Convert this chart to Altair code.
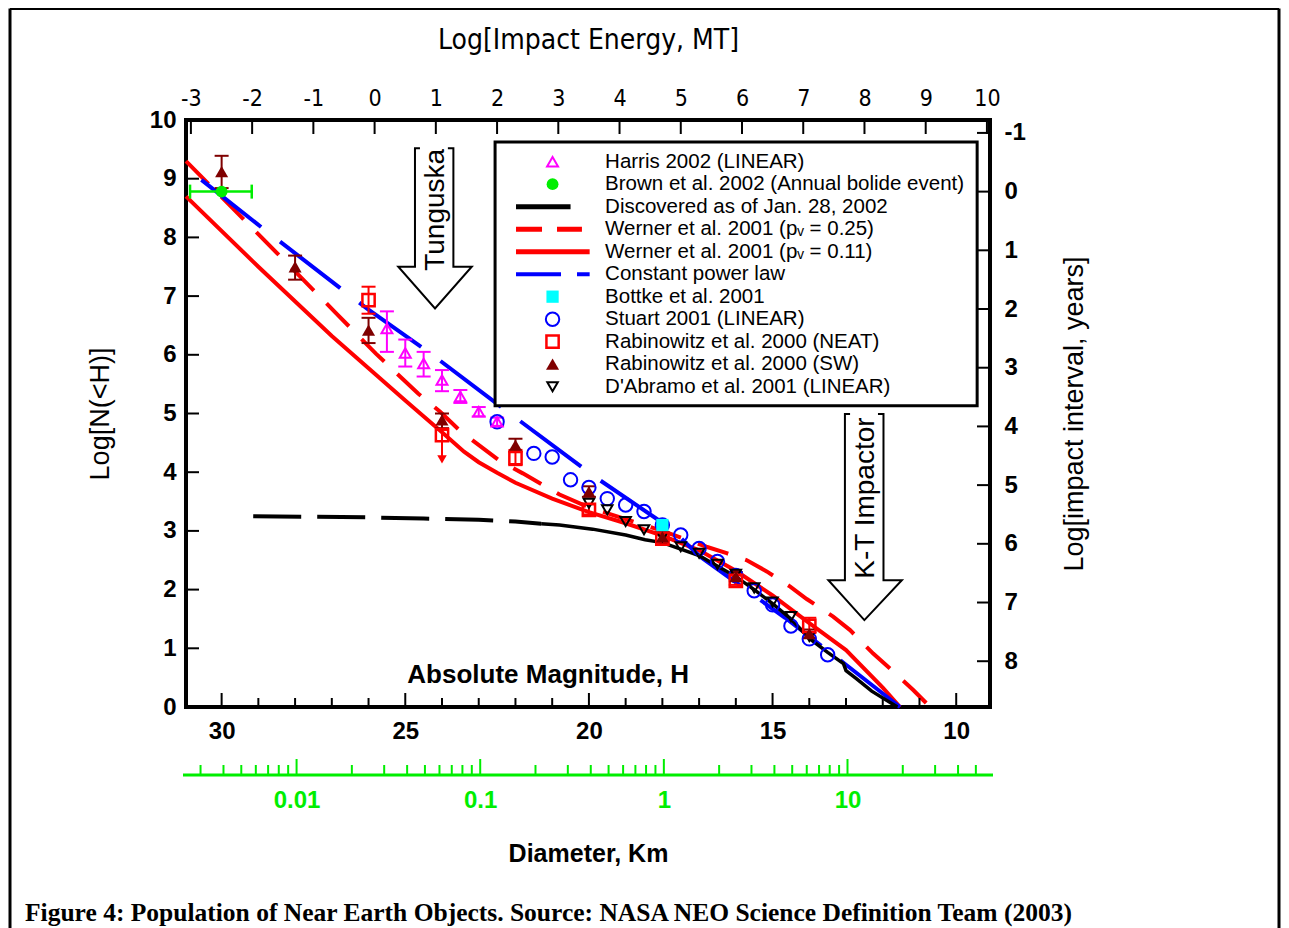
import altair as alt
import pandas as pd

# ---------------- values ----------------
# Harris 2002 (LINEAR): magenta open triangles with error bars
harris_H = [25.5, 25.0, 24.5, 24.0, 23.5, 23.0, 22.5]
harris_L = [6.45, 6.03, 5.85, 5.57, 5.29, 5.03, 4.86]
harris_lo = [6.05, 5.80, 5.63, 5.38, 5.18, 4.95, 4.79]
harris_hi = [6.74, 6.26, 6.05, 5.74, 5.40, 5.11, 4.93]

# Brown et al. 2002 (annual bolide event)
brown_H = [30.0]
brown_L = [8.78]
brown_Hlo = [30.86]
brown_Hhi = [29.18]

# Bottke et al. 2001
bottke_H = [18.0]
bottke_L = [3.10]

# Stuart 2001 (LINEAR)
stuart_H = [22.5, 21.5, 21.0, 20.5, 20.0, 19.5, 19.0, 18.5, 18.0, 17.5, 17.0,
            16.5, 16.0, 15.5, 15.0, 14.5, 14.0, 13.5]
stuart_L = [4.86, 4.32, 4.26, 3.87, 3.74, 3.55, 3.44, 3.33, 3.10, 2.93, 2.70,
            2.48, 2.24, 1.98, 1.74, 1.38, 1.16, 0.89]

# Rabinowitz et al. 2000 (NEAT)
neat_H = [26.0, 24.0, 22.0, 20.0, 18.0, 16.0, 14.0]
neat_L = [6.93, 4.63, 4.24, 3.36, 2.87, 2.15, 1.38]
neat_lo = [6.70, 4.22, 4.12, 3.28, 2.80, 2.08, 1.26]
neat_hi = [7.16, 4.72, 4.38, 3.45, 2.95, 2.24, 1.52]
neat_limit_H = [24.0]          # upper-limit arrow
neat_limit_L = [4.22]

# Rabinowitz et al. 2000 (SW)
sw_H = [30.0, 28.0, 26.0, 24.0, 22.0, 20.0, 18.0, 16.0, 14.0]
sw_L = [9.12, 7.50, 6.42, 4.89, 4.46, 3.67, 2.90, 2.22, 1.25]
sw_lo = [8.84, 7.28, 6.20, 4.75, 4.35, 3.58, 2.83, 2.15, 1.18]
sw_hi = [9.39, 7.69, 6.63, 5.00, 4.57, 3.76, 2.97, 2.30, 1.32]

# D'Abramo et al. 2001 (LINEAR)
dab_H = [20.0, 19.5, 19.0, 18.5, 18.0, 17.5, 17.0, 16.5, 16.0, 15.5, 15.0, 14.5, 14.0]
dab_L = [3.47, 3.36, 3.16, 3.02, 2.90, 2.73, 2.62, 2.43, 2.26, 2.03, 1.79, 1.54, 1.20]

# Werner et al. 2001 (pV = 0.25) : dashed red
w25_H = [30.97, 29.5, 28.0, 26.9, 25.8, 24.65, 24.05, 23.5, 22.4, 21.8, 20.8, 20.0,
         19.0, 18.0, 16.8, 16.25, 15.7, 15.16, 14.52, 14.07, 13.35, 12.89, 12.26,
         11.76, 11.17, 10.71]
w25_L = [9.30, 8.37, 7.42, 6.72, 6.02, 5.34, 5.03, 4.70, 4.18, 3.98, 3.62, 3.40,
         3.20, 3.00, 2.73, 2.62, 2.50, 2.31, 2.05, 1.84, 1.54, 1.31, 0.91,
         0.63, 0.29, 0.0]

# Werner et al. 2001 (pV = 0.11) : solid red
w11_H = [30.97, 29.0, 27.0, 26.0, 25.0, 24.0, 23.4, 23.0, 22.5, 22.0, 21.0, 20.0,
         19.0, 18.0, 17.0, 16.0, 15.0, 14.0, 13.0, 12.0, 11.53]
w11_L = [8.70, 7.50, 6.32, 5.77, 5.22, 4.68, 4.35, 4.17, 3.99, 3.82, 3.55, 3.32,
         3.13, 2.92, 2.67, 2.32, 1.90, 1.43, 0.97, 0.33, 0.0]

# Constant power law : dashed blue
pow_H = [30.55, 28.87, 26.05, 24.37, 22.15, 19.88, 17.79, 16.97, 14.66, 13.0, 11.53]
pow_L = [8.98, 8.15, 6.79, 6.05, 5.00, 3.94, 3.05, 2.56, 1.52, 0.72, 0.0]

# Discovered as of Jan. 28, 2002 : black
disc_dash_H = [29.14, 27.5, 26.0, 24.5, 23.0, 22.0, 21.3]
disc_dash_L = [3.25, 3.24, 3.23, 3.21, 3.19, 3.16, 3.12]
disc_H = [21.3, 20.8, 19.9, 19.0, 18.47, 18.0, 17.0, 16.0, 15.5, 15.0, 14.5, 14.0,
          13.5, 13.07, 13.0, 12.71, 12.3, 11.6]
disc_L = [3.12, 3.10, 3.03, 2.93, 2.85, 2.80, 2.58, 2.22, 2.00, 1.76, 1.50, 1.17,
          0.93, 0.74, 0.62, 0.48, 0.27, 0.0]

# annotation arrows (open-topped outlines, in H / log N units)
tung_H = [24.60, 24.736, 24.736, 25.19, 24.19, 23.19, 23.69, 23.69, 23.84]
tung_L = [9.52, 9.52, 7.50, 7.50, 6.79, 7.50, 7.50, 9.52, 9.52]
kt_H = [12.89, 13.03, 13.03, 13.48, 12.50, 11.48, 11.98, 11.98, 12.13]
kt_L = [4.99, 4.99, 2.16, 2.16, 1.48, 2.16, 2.16, 4.99, 4.99]

# axis tick values
h_major = [10, 15, 20, 25, 30]
h_minor = [11, 12, 13, 14, 16, 17, 18, 19, 21, 22, 23, 24, 26, 27, 28, 29]
logn_ticks = [0, 1, 2, 3, 4, 5, 6, 7, 8, 9, 10]
energy_ticks = [-3, -2, -1, 0, 1, 2, 3, 4, 5, 6, 7, 8, 9, 10]
interval_ticks = [-1, 0, 1, 2, 3, 4, 5, 6, 7, 8]
diam_major = [0.01, 0.1, 1, 10]
diam_minor = [0.003, 0.004, 0.005, 0.006, 0.007, 0.008, 0.009,
              0.02, 0.03, 0.04, 0.05, 0.06, 0.07, 0.08, 0.09,
              0.2, 0.3, 0.4, 0.5, 0.6, 0.7, 0.8, 0.9,
              2, 3, 4, 5, 6, 7, 8, 9, 20, 30, 40, 50]

legend_labels = [
    "Harris 2002 (LINEAR)",
    "Brown et al. 2002 (Annual bolide event)",
    "Discovered as of Jan. 28, 2002",
    "Werner et al. 2001 (p\u1d65 = 0.25)",
    "Werner et al. 2001 (p\u1d65 = 0.11)",
    "Constant power law",
    "Bottke et al. 2001",
    "Stuart 2001 (LINEAR)",
    "Rabinowitz et al. 2000 (NEAT)",
    "Rabinowitz et al. 2000 (SW)",
    "D'Abramo et al. 2001 (LINEAR)",
]
caption = ("Figure 4: Population of Near Earth Objects. Source: NASA NEO Science "
           "Definition Team (2003)")

# ---------------- layout constants ----------------
FONT = "Liberation Sans, Arial, Helvetica, sans-serif"
NARROW = "Liberation Sans Narrow, Arial Narrow, DejaVu Sans Condensed, Liberation Sans, sans-serif"
W, HT = 804, 587
PAD_L, PAD_T, PAD_R, PAD_B = 178, 112, 291, 221
H_DOM = [9.08, 30.97]
E_DOM = [-3.08, 10.05]
R_DOM = [-1.22, 8.78]
D_DOM = [0.0025, 59.7]

xs = alt.Scale(domain=H_DOM, reverse=True, nice=False, zero=False)
ys = alt.Scale(domain=[0, 10], nice=False, zero=False)
x_axis = alt.Axis(values=h_major, title=None, ticks=False, domain=False, grid=False,
                  labelFont=FONT, labelFontSize=24, labelFontWeight="bold",
                  labelColor="black", labelPadding=12, labelFlush=False,
                  labelOverlap=False)
y_axis = alt.Axis(values=logn_ticks, title="Log[N(<H)]", ticks=False, domain=False,
                  grid=False, labelFont=FONT, labelFontSize=24, labelFontWeight="bold",
                  labelColor="black", labelPadding=10, labelOverlap=False,
                  titleFont=FONT, titleFontSize=27, titleFontWeight="normal",
                  titleColor="black", titlePadding=35)


def X(f):
    return alt.X(f + ":Q", scale=xs, axis=x_axis)


def Y(f):
    return alt.Y(f + ":Q", scale=ys, axis=y_axis)


def frame(**cols):
    df = pd.DataFrame(cols)
    df["i"] = range(len(df))
    return df


one = pd.DataFrame({"k": [0]})

STY = {
    "harris": dict(shape="triangle-up", color="#ff00ff", filled=False, size=120,
                   strokeWidth=2, opacity=1),
    "brown": dict(shape="circle", color="#00ee00", filled=True, size=140, opacity=1),
    "bottke": dict(shape="square", color="#00ffff", filled=True, size=150, opacity=1),
    "stuart": dict(shape="circle", color="#0000ff", filled=False, size=180,
                   strokeWidth=2, opacity=1),
    "neat": dict(shape="square", color="#ff0000", filled=False, size=150,
                 strokeWidth=2.5, opacity=1),
    "sw": dict(shape="triangle-up", color="#7f0000", filled=True, size=170, opacity=1),
    "dab": dict(shape="triangle-down", color="#000000", filled=False, size=110,
                strokeWidth=2, opacity=1),
}

layers = []


def line(H, L, **kw):
    df = frame(H=H, L=L)
    return alt.Chart(df).mark_line(**kw).encode(x=X("H"), y=Y("L"), order="i:Q")


layers.append(line(w25_H, w25_L, color="#ff0000", strokeWidth=4, strokeDash=[32, 18]))
layers.append(line(w11_H, w11_L, color="#ff0000", strokeWidth=4))
layers.append(line(pow_H, pow_L, color="#0000ff", strokeWidth=4, strokeDash=[76, 24]))
layers.append(line(disc_dash_H, disc_dash_L, color="black", strokeWidth=4,
                   strokeDash=[48, 16]))
layers.append(line(disc_H, disc_L, color="black", strokeWidth=3.5))


def errbars(H, L, lo, hi, color, skip_lo=()):
    df = frame(H=H, L=L, lo=lo, hi=hi)
    rule = alt.Chart(df).mark_rule(color=color, strokeWidth=2).encode(
        x=X("H"), y=Y("lo"), y2=alt.Y2("hi"))
    cap_hi = alt.Chart(df).mark_tick(orient="horizontal", color=color, size=14,
                                     thickness=2, opacity=1).encode(x=X("H"), y=Y("hi"))
    df_lo = df[~df["H"].isin(skip_lo)]
    cap_lo = alt.Chart(df_lo).mark_tick(orient="horizontal", color=color, size=14,
                                        thickness=2, opacity=1).encode(x=X("H"), y=Y("lo"))
    return [rule, cap_hi, cap_lo]


layers += errbars(harris_H, harris_L, harris_lo, harris_hi, "#ff00ff")
layers += errbars(sw_H, sw_L, sw_lo, sw_hi, "#7f0000")
layers += errbars(neat_H, neat_L, neat_lo, neat_hi, "#ff0000", skip_lo=(24.0,))

brown_df = frame(H=brown_H, L=brown_L, Hlo=brown_Hlo, Hhi=brown_Hhi)
layers.append(alt.Chart(brown_df).mark_rule(color="#00ee00", strokeWidth=2.5).encode(
    x=X("Hlo"), x2=alt.X2("Hhi"), y=Y("L")))
for f in ("Hlo", "Hhi"):
    layers.append(alt.Chart(brown_df).mark_tick(orient="vertical", color="#00ee00", size=14,
                                                thickness=2.5, opacity=1).encode(
        x=X(f), y=Y("L")))


def pts(H, L, key):
    return alt.Chart(frame(H=H, L=L)).mark_point(**STY[key]).encode(x=X("H"), y=Y("L"))


layers.append(pts(brown_H, brown_L, "brown"))
layers.append(pts(stuart_H, stuart_L, "stuart"))
layers.append(pts(dab_H, dab_L, "dab"))
layers.append(pts(neat_H, neat_L, "neat"))
layers.append(pts(sw_H, sw_L, "sw"))
layers.append(pts(harris_H, harris_L, "harris"))
layers.append(pts(bottke_H, bottke_L, "bottke"))
layers.append(alt.Chart(frame(H=neat_limit_H, L=neat_limit_L)).mark_point(
    shape="triangle-down", color="#ff0000", filled=True, size=90, opacity=1).encode(
    x=X("H"), y=Y("L")))

# ---------------- legend (inside the plot) ----------------
leg = pd.DataFrame({"label": legend_labels})
leg["i"] = range(len(leg))
leg["L"] = 9.29 - leg["i"] * 0.3833
leg["sx"] = 20.99
leg["tx"] = 19.56
leg["x0"] = 21.985

box = pd.DataFrame({"a": [22.555], "b": [9.43], "c": [9.625], "d": [5.13]})
layers.append(alt.Chart(box).mark_rect(fill="white", stroke="black", strokeWidth=3).encode(
    x=X("a"), x2=alt.X2("b"), y=Y("c"), y2=alt.Y2("d")))

sym_rows = {"harris": 0, "brown": 1, "bottke": 6, "stuart": 7, "neat": 8, "sw": 9, "dab": 10}
for key, row in sym_rows.items():
    layers.append(alt.Chart(leg).transform_filter(alt.datum.i == row).mark_point(
        **STY[key]).encode(x=X("sx"), y=Y("L")))

line_rows = [
    (2, 20.50, dict(color="black", strokeWidth=5)),
    (3, 20.19, dict(color="#ff0000", strokeWidth=5, strokeDash=[26, 15])),
    (4, 19.98, dict(color="#ff0000", strokeWidth=5)),
    (5, 19.98, dict(color="#0000ff", strokeWidth=4, strokeDash=[45, 16])),
]
for row, x1, kw in line_rows:
    layers.append(alt.Chart(leg).transform_filter(alt.datum.i == row).transform_calculate(
        x1=str(x1)).mark_rule(**kw).encode(x=X("x0"), x2=alt.X2("x1:Q"), y=Y("L")))

layers.append(alt.Chart(leg).mark_text(align="left", baseline="middle", font=FONT,
                                       fontSize=20.5, color="black").encode(
    x=X("tx"), y=Y("L"), text="label:N"))

# ---------------- annotations ----------------
layers.append(line(tung_H, tung_L, color="black", strokeWidth=2))
layers.append(line(kt_H, kt_L, color="black", strokeWidth=2))
ann = pd.DataFrame({
    "t": ["Tunguska", "K-T Impactor", "Absolute Magnitude, H"],
    "H": [24.16, 12.45, 21.11],
    "L": [8.47, 3.56, 0.545],
    "ang": [270, 270, 0],
    "w": ["normal", "normal", "bold"],
    "fs": [28, 28, 26],
})
for k in range(3):
    r = ann.iloc[[k]]
    layers.append(alt.Chart(r).mark_text(
        align="center", baseline="middle", font=FONT, fontSize=int(r["fs"].iloc[0]),
        fontWeight=r["w"].iloc[0], angle=int(r["ang"].iloc[0]), color="black").encode(
        x=X("H"), y=Y("L"), text="t:N"))

# ---------------- inward tick marks for the H and log N axes ----------------
layers.append(alt.Chart(pd.DataFrame({"H": h_major})).mark_rule(color="black", strokeWidth=2)
              .encode(x=X("H"), y=alt.value(HT), y2=alt.value(HT - 14)))
layers.append(alt.Chart(pd.DataFrame({"H": h_minor})).mark_rule(color="black", strokeWidth=2)
              .encode(x=X("H"), y=alt.value(HT), y2=alt.value(HT - 9)))
layers.append(alt.Chart(pd.DataFrame({"L": logn_ticks[1:-1]})).mark_rule(
    color="black", strokeWidth=2).encode(y=Y("L"), x=alt.value(0), x2=alt.value(13)))

# ---------------- page frame and caption ----------------
RIGHT_EDGE = W + PAD_R - 2
layers.append(alt.Chart(one).mark_rule(color="black", strokeWidth=3).encode(
    x=alt.value(-176), y=alt.value(-111.5), y2=alt.value(830)))
layers.append(alt.Chart(one).mark_rule(color="black", strokeWidth=3).encode(
    x=alt.value(-176), x2=alt.value(RIGHT_EDGE), y=alt.value(-111.5)))
layers.append(alt.Chart(one).mark_rule(color="black", strokeWidth=3).encode(
    x=alt.value(RIGHT_EDGE), y=alt.value(-111.5), y2=alt.value(830)))
layers.append(alt.Chart(pd.DataFrame({"t": [caption]})).mark_text(
    align="left", baseline="middle", font="Liberation Serif, Times New Roman, serif",
    fontSize=25.5, fontWeight="bold", color="black").encode(
    x=alt.value(-161), y=alt.value(793), text="t:N"))

main = alt.layer(*layers)

# ---------------- secondary axes ----------------
energy = alt.Chart(pd.DataFrame({"E": energy_ticks})).mark_rule(
    color="black", strokeWidth=2).encode(
    x=alt.X("E:Q", scale=alt.Scale(domain=E_DOM, nice=False, zero=False),
            axis=alt.Axis(orient="top", values=energy_ticks, ticks=False, domain=False,
                          grid=False, labelExpr="'' + datum.value", labelFont=NARROW,
                          labelFontSize=23, labelColor="black", labelPadding=10,
                          labelFlush=False, labelOverlap=False,
                          title="Log[Impact Energy, MT]", titleFont=NARROW,
                          titleFontSize=28, titleFontWeight="normal", titleColor="black",
                          titlePadding=33)),
    y=alt.value(0), y2=alt.value(14))

interval = alt.Chart(pd.DataFrame({"R": interval_ticks})).mark_rule(
    color="black", strokeWidth=2).encode(
    y=alt.Y("R:Q", scale=alt.Scale(domain=R_DOM, reverse=True, nice=False, zero=False),
            axis=alt.Axis(orient="right", values=interval_ticks, ticks=False, domain=False,
                          grid=False, labelExpr="'' + datum.value", labelFont=FONT,
                          labelFontSize=24, labelFontWeight="bold", labelColor="black",
                          labelPadding=14, labelOverlap=False,
                          title="Log[impact interval, years]", titleFont=FONT,
                          titleFontSize=27, titleFontWeight="normal", titleColor="black",
                          titleAngle=270, titleBaseline="top", titlePadding=36)),
    x=alt.value(W), x2=alt.value(W - 13))

dscale = alt.Scale(type="log", domain=D_DOM, nice=False)
daxis = alt.Axis(orient="bottom", offset=68, values=diam_major, ticks=False, domain=False,
                 grid=False, labelExpr="'' + datum.value", labelFont=FONT, labelFontSize=24,
                 labelFontWeight="bold", labelColor="#00ee00", labelPadding=13,
                 labelFlush=False, labelOverlap=False, title="Diameter, Km",
                 titleFont=FONT, titleFontSize=25, titleFontWeight="bold",
                 titleColor="black", titlePadding=29)
GREEN_Y = HT + 68
diam = alt.layer(
    alt.Chart(one).mark_rule(color="#00ee00", strokeWidth=3).encode(
        x=alt.value(-3), x2=alt.value(W + 3), y=alt.value(GREEN_Y)),
    alt.Chart(pd.DataFrame({"D": diam_major})).mark_rule(color="#00ee00", strokeWidth=2)
    .encode(x=alt.X("D:Q", scale=dscale, axis=daxis), y=alt.value(GREEN_Y),
            y2=alt.value(GREEN_Y - 16)),
    alt.Chart(pd.DataFrame({"D": diam_minor})).mark_rule(color="#00ee00", strokeWidth=2)
    .encode(x=alt.X("D:Q", scale=dscale, axis=daxis), y=alt.value(GREEN_Y),
            y2=alt.value(GREEN_Y - 10)),
)

chart = alt.layer(main, energy, interval, diam).resolve_scale(
    x="independent", y="independent"
).properties(
    width=W, height=HT,
    autosize=alt.AutoSizeParams(type="none"),
    padding={"left": PAD_L, "top": PAD_T, "right": PAD_R, "bottom": PAD_B},
    background="white",
).configure_view(stroke="black", strokeWidth=4)

chart.save("out.html", embed_options={"renderer": "svg", "actions": False})
